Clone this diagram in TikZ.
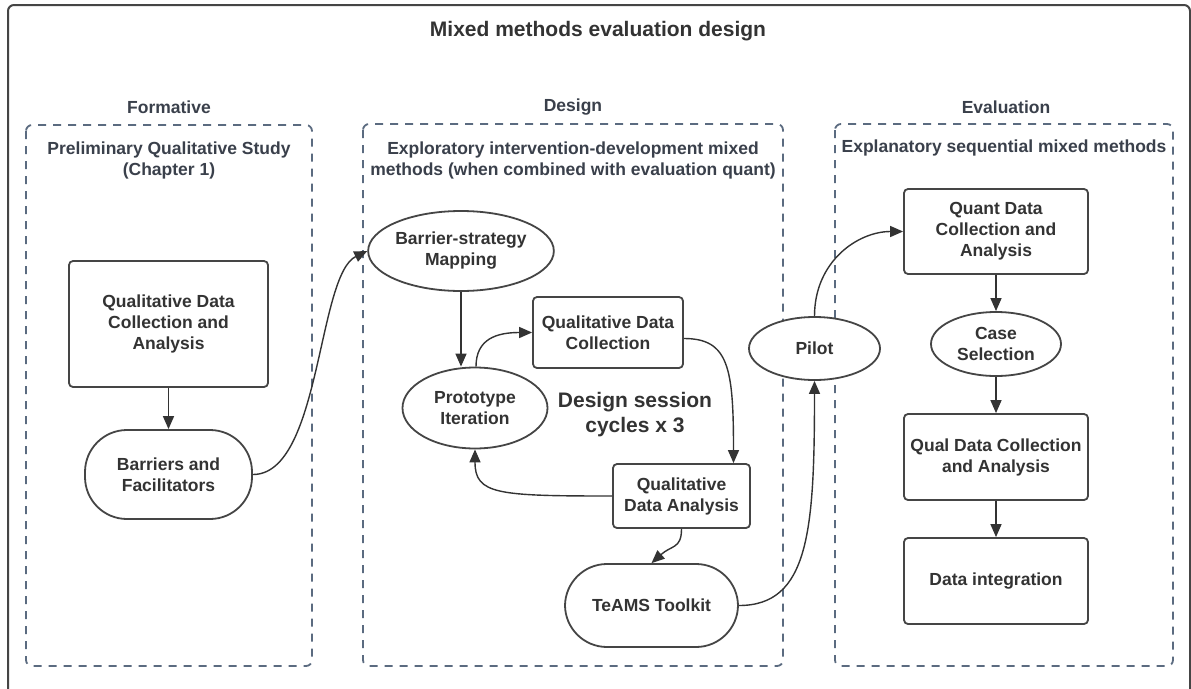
\documentclass[tikz,border=0pt]{standalone}
\usepackage{fontspec}
\setmainfont{Liberation Sans}
\usetikzlibrary{shapes.geometric,arrows.meta}
\definecolor{txt}{HTML}{333333}
\definecolor{hdr}{HTML}{3A404B}
\definecolor{dashc}{HTML}{5B6B80}
\definecolor{edge}{HTML}{454545}
\tikzset{
  every node/.style={font=\bfseries\fontsize{17.5}{21}\selectfont, text=txt, align=center},
  box/.style={draw=edge, fill=white, line width=1.8pt, rounded corners=4pt, rectangle, inner sep=0pt},
  oval/.style={draw=edge, fill=white, line width=1.8pt, ellipse, inner sep=0pt},
  pill/.style={draw=edge, fill=white, line width=1.8pt, rounded corners=42pt, rectangle, inner sep=0pt},
  phase/.style={draw=dashc, line width=1.8pt, dash pattern=on 8pt off 7pt, rounded corners=6pt},
  hdrtxt/.style={text=hdr},
  conn/.style={draw=txt, line width=1.4pt, -{Triangle[length=13pt,width=11pt]}},
}
\begin{document}
\begin{tikzpicture}[x=1pt,y=-1pt]
\useasboundingbox (0,0) rectangle (1191,688);
\fill[white] (0,0) rectangle (1191,688);
\draw[draw=edge, line width=2pt, rounded corners=6pt] (8,5) rectangle (1190,700);

\node[font=\bfseries\fontsize{21}{25}\selectfont] (title) at (598,31) {Mixed methods evaluation design};

% phase frames
\draw[phase] (26,125) rectangle (312,666);
\draw[phase] (363,124) rectangle (783,666);
\draw[phase] (835,124) rectangle (1173,666);

\node[hdrtxt] (hform) at (169,107) {Formative};
\node[hdrtxt] (hdes) at (573,107) {Design};
\node[hdrtxt] (heval) at (1006,107) {Evaluation};

\node[hdrtxt] (sform) at (169,160) {Preliminary Qualitative Study\\(Chapter 1)};
\node[hdrtxt] (sdes) at (573,160) {Exploratory intervention-development mixed\\methods (when combined with evaluation quant)};
\node[hdrtxt] (seval) at (1004,148) {Explanatory sequential mixed methods};

% formative
\node[box, minimum width=199pt, minimum height=126pt] (fqda) at (168.5,324) {Qualitative Data\\Collection and\\Analysis};
\node[pill, minimum width=167pt, minimum height=89pt] (barr) at (168.5,474.5) {Barriers and\\Facilitators};

% design
\node[oval, minimum width=146pt, minimum height=80pt] (bsm) at (461,251) {Barrier-strategy\\Mapping};
\node[oval, minimum width=145pt, minimum height=81pt] (proto) at (475,408) {Prototype\\Iteration};
\node[box, minimum width=150pt, minimum height=71pt] (qdc) at (608,332.5) {Qualitative Data\\Collection};
\node[font=\bfseries\fontsize{21}{25}\selectfont] (cyc) at (635,415) {Design session\\cycles x 3};
\node[box, minimum width=137pt, minimum height=64pt] (qda) at (681.5,496) {Qualitative\\Data Analysis};
\node[pill, minimum width=173pt, minimum height=83pt] (teams) at (651.5,605.5) {TeAMS Toolkit};

% pilot
\node[oval, minimum width=131pt, minimum height=63pt] (pilot) at (814.5,348.5) {Pilot};

% evaluation
\node[box, minimum width=184pt, minimum height=85pt] (quant) at (996,231.5) {Quant Data\\Collection and\\Analysis};
\node[oval, minimum width=130pt, minimum height=64pt] (case) at (996,344) {Case\\Selection};
\node[box, minimum width=184pt, minimum height=86pt] (qual) at (996,457) {Qual Data Collection\\and Analysis};
\node[box, minimum width=184pt, minimum height=86pt] (integ) at (996,581) {Data integration};

% connectors
\draw[conn] (fqda.south) -- (barr.north);
\draw[conn] (barr.east) .. controls +(68,0) and +(-50,24) .. (bsm.west);
\draw[conn] (bsm.south) -- (bsm.south |- proto.north);
\draw[conn] ([xshift=1pt]proto.north) .. controls +(0,-28) and +(-35,0) .. (qdc.west);
\draw[conn] ([yshift=-6pt]qdc.east) .. controls +(45,0) and +(0,-95) .. ([xshift=52pt]qda.north);
\draw[conn] (qda.west) .. controls +(-115,0) and +(0,45) .. (proto.south);
\draw[conn] (qda.south) .. controls +(0,20) and +(20,-18) .. (teams.north);
\draw[conn] (teams.east) .. controls +(70,0) and +(0,150) .. (pilot.south);
\draw[conn] (pilot.north) .. controls +(0,-55) and +(-45,0) .. (quant.west);
\draw[conn] (quant.south) -- (case.north);
\draw[conn] (case.south) -- (qual.north);
\draw[conn] (qual.south) -- (integ.north);
\end{tikzpicture}
\end{document}
